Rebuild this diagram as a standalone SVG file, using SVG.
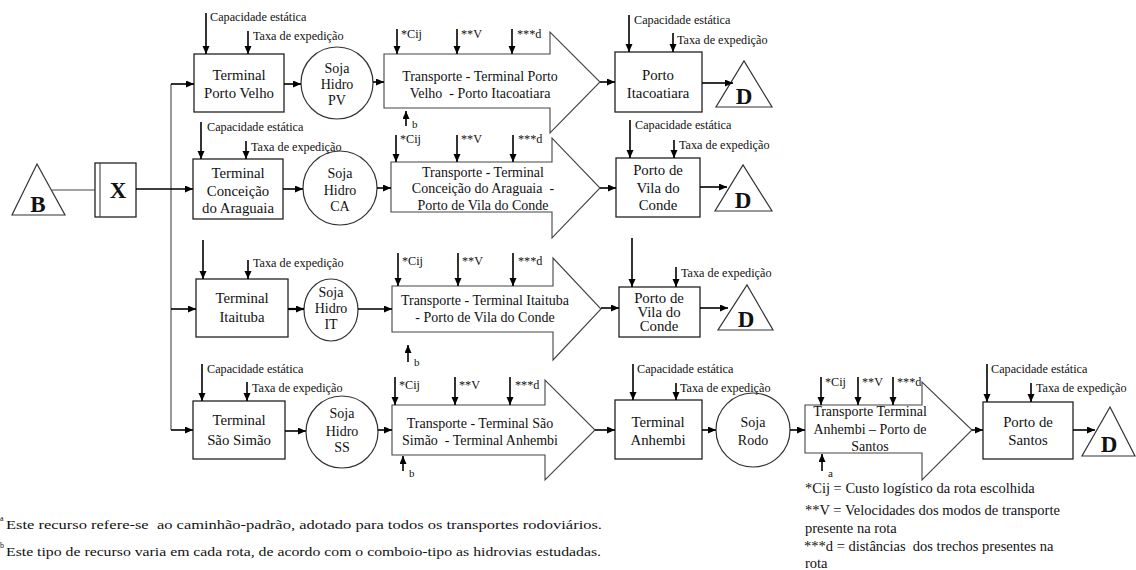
<svg xmlns="http://www.w3.org/2000/svg" width="1136" height="570" viewBox="0 0 1136 570" font-family="'Liberation Serif', 'DejaVu Serif', serif">
  <style>
    text { font-family: 'Liberation Serif', 'DejaVu Serif', 'Times New Roman', serif; fill: #111; white-space: pre; }
    .box { fill: #fff; stroke: #222; stroke-width: 1.3; }
    .circ { fill: #fff; stroke: #333; stroke-width: 1.2; }
    .big { fill: #fff; stroke: #444; stroke-width: 1.1; }
    .tri { fill: #fff; stroke: #333; stroke-width: 1.2; }
    .t { font-size: 14.8px; text-anchor: middle; }
    .ta { font-size: 14px; text-anchor: middle; }
    .s { font-size: 12.2px; }
    .sub { font-size: 11px; }
    .d { font-size: 23px; font-weight: bold; text-anchor: middle; }
    .note { font-size: 14.5px; }
    .fn { font-size: 13.5px; }
    .sup { font-size: 8px; }
    .c { stroke: #000; stroke-width: 1.6; fill: none; }
    .thin { stroke: #444; stroke-width: 1.1; fill: none; }
  </style>
  <defs>
    <marker id="ah" markerUnits="userSpaceOnUse" markerWidth="9" markerHeight="8" refX="8" refY="3.5" orient="auto">
      <path d="M0,0 L8,3.5 L0,7 z" fill="#000"/>
    </marker>
  </defs>

  <!-- origin and selection -->
  <g id="origem-B">
    <polygon class="tri" points="12,215 65,215 37,164"/>
    <text class="d" x="38" y="212">B</text>
  </g>
  <g id="selecao-X">
    <rect class="box" x="95" y="163" width="41" height="54"/>
    <line class="thin" x1="100" y1="163" x2="100" y2="217"/>
    <text class="d" x="118" y="198">X</text>
  </g>

  <!-- route 1: Porto Velho -> Itacoatiara -->
  <g id="terminal-porto-velho">
    <rect class="box" x="194" y="54" width="90" height="58"/>
    <text class="t" x="239" y="80">Terminal</text>
    <text class="t" x="239" y="98">Porto Velho</text>
  </g>
  <g id="soja-hidro-pv">
    <circle class="circ" cx="337" cy="83" r="36"/>
    <text class="ta" x="337" y="73">Soja</text>
    <text class="ta" x="337" y="89">Hidro</text>
    <text class="ta" x="337" y="105">PV</text>
  </g>
  <g id="transporte-pv-itacoatiara">
    <polygon class="big" points="384,54 550,54 550,32 600,82 550,133 550,108 384,108"/>
    <text class="ta" x="480" y="81">Transporte - Terminal Porto</text>
    <text class="ta" x="480" y="98">Velho  - Porto Itacoatiara</text>
  </g>
  <g id="porto-itacoatiara">
    <rect class="box" x="615" y="52" width="87" height="60"/>
    <text class="t" x="658" y="80">Porto</text>
    <text class="t" x="658" y="98">Itacoatiara</text>
  </g>
  <g id="destino-1">
    <polygon class="tri" points="716,107 772,107 744,61"/>
    <text class="d" x="744" y="104">D</text>
  </g>

  <!-- route 2: Conceição do Araguaia -> Vila do Conde -->
  <g id="terminal-conceicao">
    <rect class="box" x="193" y="159" width="90" height="60"/>
    <text class="t" x="238" y="178">Terminal</text>
    <text class="t" x="238" y="196">Conceição</text>
    <text class="t" x="238" y="213">do Araguaia</text>
  </g>
  <g id="soja-hidro-ca">
    <circle class="circ" cx="340" cy="188" r="37"/>
    <text class="ta" x="340" y="178">Soja</text>
    <text class="ta" x="340" y="195">Hidro</text>
    <text class="ta" x="340" y="211">CA</text>
  </g>
  <g id="transporte-ca-vila-do-conde">
    <polygon class="big" points="391,162 552,162 552,138 600,188 552,238 552,212 391,212"/>
    <text class="ta" x="483" y="177">Transporte - Terminal</text>
    <text class="ta" x="483" y="193">Conceição do Araguaia  -</text>
    <text class="ta" x="483" y="210">Porto de Vila do Conde</text>
  </g>
  <g id="porto-vila-do-conde-2">
    <rect class="box" x="616" y="158" width="84" height="59"/>
    <text class="t" x="658" y="175">Porto de</text>
    <text class="t" x="658" y="193">Vila do</text>
    <text class="t" x="658" y="210">Conde</text>
  </g>
  <g id="destino-2">
    <polygon class="tri" points="715,211 772,211 743,165"/>
    <text class="d" x="743" y="208">D</text>
  </g>

  <!-- route 3: Itaituba -> Vila do Conde -->
  <g id="terminal-itaituba">
    <rect class="box" x="196" y="279" width="92" height="58"/>
    <text class="t" x="242" y="303">Terminal</text>
    <text class="t" x="242" y="322">Itaituba</text>
  </g>
  <g id="soja-hidro-it">
    <ellipse class="circ" cx="331" cy="310" rx="27" ry="31"/>
    <text class="ta" x="331" y="297">Soja</text>
    <text class="ta" x="331" y="313">Hidro</text>
    <text class="ta" x="331" y="329">IT</text>
  </g>
  <g id="transporte-it-vila-do-conde">
    <polygon class="big" points="392,286 553,286 553,258 601,309 553,360 553,332 392,332"/>
    <text class="ta" x="485" y="305">Transporte - Terminal Itaituba</text>
    <text class="ta" x="485" y="322">- Porto de Vila do Conde</text>
  </g>
  <g id="porto-vila-do-conde-3">
    <rect class="box" x="619" y="287" width="81" height="50"/>
    <text class="t" x="659" y="303">Porto de</text>
    <text class="t" x="659" y="317">Vila do</text>
    <text class="t" x="659" y="331">Conde</text>
  </g>
  <g id="destino-3">
    <polygon class="tri" points="718,330 773,330 747,285"/>
    <text class="d" x="746" y="327">D</text>
  </g>

  <!-- route 4: São Simão -> Anhembi -> Santos -->
  <g id="terminal-sao-simao">
    <rect class="box" x="193" y="401" width="92" height="58"/>
    <text class="t" x="239" y="425">Terminal</text>
    <text class="t" x="239" y="445">São Simão</text>
  </g>
  <g id="soja-hidro-ss">
    <circle class="circ" cx="342" cy="432" r="36"/>
    <text class="ta" x="342" y="418">Soja</text>
    <text class="ta" x="342" y="436">Hidro</text>
    <text class="ta" x="342" y="452">SS</text>
  </g>
  <g id="transporte-ss-anhembi">
    <polygon class="big" points="392,405 545,405 545,380 595,430 545,480 545,455 392,455"/>
    <text class="ta" x="480" y="428">Transporte - Terminal São</text>
    <text class="ta" x="480" y="445">Simão  - Terminal Anhembi</text>
  </g>
  <g id="terminal-anhembi">
    <rect class="box" x="615" y="400" width="87" height="59"/>
    <text class="t" x="658" y="427">Terminal</text>
    <text class="t" x="658" y="445">Anhembi</text>
  </g>
  <g id="soja-rodo">
    <circle class="circ" cx="753" cy="430" r="37"/>
    <text class="ta" x="753" y="427">Soja</text>
    <text class="ta" x="753" y="445">Rodo</text>
  </g>
  <g id="transporte-anhembi-santos">
    <polygon class="big" points="805,405 922,405 922,382 972,430 922,480 922,453 805,453"/>
    <text class="ta" x="870" y="416">Transporte Terminal</text>
    <text class="ta" x="870" y="434">Anhembi – Porto de</text>
    <text class="ta" x="870" y="451">Santos</text>
  </g>
  <g id="porto-de-santos">
    <rect class="box" x="983" y="402" width="90" height="57"/>
    <text class="t" x="1028" y="427">Porto de</text>
    <text class="t" x="1028" y="445">Santos</text>
  </g>
  <g id="destino-4">
    <polygon class="tri" points="1082,456 1135,456 1110,407"/>
    <text class="d" x="1109" y="452">D</text>
  </g>

  <!-- flow connectors -->
  <g id="connectors">
    <line class="thin" x1="52" y1="190" x2="95" y2="190"/>
    <polyline class="thin" points="171,84 171,430"/>
    <line class="c" x1="136" y1="189" x2="193" y2="189" marker-end="url(#ah)"/>
    <line class="c" x1="171" y1="84" x2="194" y2="84" marker-end="url(#ah)"/>
    <line class="c" x1="171" y1="309" x2="196" y2="309" marker-end="url(#ah)"/>
    <line class="c" x1="171" y1="430" x2="193" y2="430" marker-end="url(#ah)"/>

    <line class="c" x1="284" y1="84" x2="301" y2="84" marker-end="url(#ah)"/>
    <line class="c" x1="373" y1="82" x2="384" y2="82" marker-end="url(#ah)"/>
    <line class="c" x1="600" y1="82" x2="615" y2="82" marker-end="url(#ah)"/>
    <line class="c" x1="702" y1="83" x2="733" y2="83" marker-end="url(#ah)"/>

    <line class="c" x1="283" y1="189" x2="303" y2="189" marker-end="url(#ah)"/>
    <line class="c" x1="377" y1="188" x2="391" y2="188" marker-end="url(#ah)"/>
    <line class="c" x1="600" y1="188" x2="616" y2="188" marker-end="url(#ah)"/>
    <line class="c" x1="700" y1="187" x2="727" y2="187" marker-end="url(#ah)"/>

    <line class="c" x1="288" y1="309" x2="304" y2="309" marker-end="url(#ah)" style="stroke-width:2.2"/>
    <line class="c" x1="358" y1="309" x2="392" y2="309" marker-end="url(#ah)"/>
    <line class="c" x1="601" y1="308" x2="619" y2="308" marker-end="url(#ah)"/>
    <line class="c" x1="700" y1="308" x2="728" y2="308" marker-end="url(#ah)"/>

    <line class="c" x1="285" y1="431" x2="306" y2="431" marker-end="url(#ah)"/>
    <line class="c" x1="378" y1="430" x2="392" y2="430" marker-end="url(#ah)"/>
    <line class="c" x1="595" y1="430" x2="615" y2="430" marker-end="url(#ah)"/>
    <line class="c" x1="702" y1="430" x2="716" y2="430" marker-end="url(#ah)"/>
    <line class="c" x1="790" y1="430" x2="805" y2="430" marker-end="url(#ah)"/>
    <line class="c" x1="972" y1="430" x2="983" y2="430" marker-end="url(#ah)"/>
    <line class="c" x1="1073" y1="430" x2="1095" y2="430" marker-end="url(#ah)"/>
  </g>

  <!-- resource and parameter inputs -->
  <g id="inputs">
    <!-- route 1 -->
    <line class="c" x1="206" y1="13" x2="206" y2="54" marker-end="url(#ah)"/>
    <text class="s" x="210" y="21">Capacidade estática</text>
    <line class="c" x1="248" y1="31" x2="248" y2="54" marker-end="url(#ah)"/>
    <text class="s" x="253" y="40">Taxa de expedição</text>
    <line class="c" x1="397" y1="29" x2="397" y2="54" marker-end="url(#ah)"/>
    <text class="s" x="401" y="38">*Cij</text>
    <line class="c" x1="457" y1="29" x2="457" y2="54" marker-end="url(#ah)"/>
    <text class="s" x="461" y="38">**V</text>
    <line class="c" x1="512" y1="29" x2="512" y2="54" marker-end="url(#ah)"/>
    <text class="s" x="517" y="38">***d</text>
    <line class="c" x1="406" y1="126" x2="406" y2="111" marker-end="url(#ah)"/>
    <text class="sub" x="412" y="128">b</text>
    <line class="c" x1="629" y1="15" x2="629" y2="52" marker-end="url(#ah)"/>
    <text class="s" x="634" y="24">Capacidade estática</text>
    <line class="c" x1="673" y1="33" x2="673" y2="52" marker-end="url(#ah)"/>
    <text class="s" x="677" y="44">Taxa de expedição</text>

    <!-- route 2 -->
    <line class="c" x1="201" y1="122" x2="201" y2="159" marker-end="url(#ah)"/>
    <text class="s" x="207" y="131">Capacidade estática</text>
    <line class="c" x1="246" y1="141" x2="246" y2="159" marker-end="url(#ah)"/>
    <text class="s" x="251" y="151">Taxa de expedição</text>
    <line class="c" x1="396" y1="135" x2="396" y2="162" marker-end="url(#ah)"/>
    <text class="s" x="400" y="143">*Cij</text>
    <line class="c" x1="457" y1="135" x2="457" y2="162" marker-end="url(#ah)"/>
    <text class="s" x="461" y="143">**V</text>
    <line class="c" x1="513" y1="135" x2="513" y2="162" marker-end="url(#ah)"/>
    <text class="s" x="518" y="143">***d</text>
    <line class="c" x1="630" y1="120" x2="630" y2="158" marker-end="url(#ah)"/>
    <text class="s" x="635" y="129">Capacidade estática</text>
    <line class="c" x1="674" y1="140" x2="674" y2="158" marker-end="url(#ah)"/>
    <text class="s" x="679" y="149">Taxa de expedição</text>

    <!-- route 3 -->
    <line class="c" x1="203" y1="240" x2="203" y2="279" marker-end="url(#ah)"/>
    <line class="c" x1="248" y1="260" x2="248" y2="279" marker-end="url(#ah)"/>
    <text class="s" x="253" y="267">Taxa de expedição</text>
    <line class="c" x1="398" y1="253" x2="398" y2="286" marker-end="url(#ah)"/>
    <text class="s" x="402" y="265">*Cij</text>
    <line class="c" x1="458" y1="253" x2="458" y2="286" marker-end="url(#ah)"/>
    <text class="s" x="462" y="265">**V</text>
    <line class="c" x1="513" y1="253" x2="513" y2="286" marker-end="url(#ah)"/>
    <text class="s" x="518" y="265">***d</text>
    <line class="c" x1="408" y1="362" x2="408" y2="345" marker-end="url(#ah)"/>
    <text class="sub" x="414" y="366">b</text>
    <line class="c" x1="632" y1="238" x2="632" y2="287" marker-end="url(#ah)"/>
    <line class="c" x1="676" y1="267" x2="676" y2="287" marker-end="url(#ah)"/>
    <text class="s" x="681" y="277">Taxa de expedição</text>

    <!-- route 4 -->
    <line class="c" x1="202" y1="364" x2="202" y2="401" marker-end="url(#ah)"/>
    <text class="s" x="207" y="373">Capacidade estática</text>
    <line class="c" x1="247" y1="382" x2="247" y2="401" marker-end="url(#ah)"/>
    <text class="s" x="252" y="392">Taxa de expedição</text>
    <line class="c" x1="395" y1="377" x2="395" y2="405" marker-end="url(#ah)"/>
    <text class="s" x="399" y="389">*Cij</text>
    <line class="c" x1="455" y1="377" x2="455" y2="405" marker-end="url(#ah)"/>
    <text class="s" x="459" y="389">**V</text>
    <line class="c" x1="510" y1="377" x2="510" y2="405" marker-end="url(#ah)"/>
    <text class="s" x="515" y="389">***d</text>
    <line class="c" x1="403" y1="471" x2="403" y2="456" marker-end="url(#ah)"/>
    <text class="sub" x="409" y="477">b</text>
    <line class="c" x1="633" y1="364" x2="633" y2="400" marker-end="url(#ah)"/>
    <text class="s" x="637" y="373">Capacidade estática</text>
    <line class="c" x1="676" y1="383" x2="676" y2="400" marker-end="url(#ah)"/>
    <text class="s" x="680" y="392">Taxa de expedição</text>
    <line class="c" x1="821" y1="377" x2="821" y2="405" marker-end="url(#ah)"/>
    <text class="s" x="825" y="386">*Cij</text>
    <line class="c" x1="858" y1="377" x2="858" y2="405" marker-end="url(#ah)"/>
    <text class="s" x="862" y="386">**V</text>
    <line class="c" x1="893" y1="377" x2="893" y2="405" marker-end="url(#ah)"/>
    <text class="s" x="897" y="386">***d</text>
    <line class="c" x1="822" y1="471" x2="822" y2="454" marker-end="url(#ah)"/>
    <text class="sub" x="828" y="477">a</text>
    <line class="c" x1="987" y1="364" x2="987" y2="402" marker-end="url(#ah)"/>
    <text class="s" x="991" y="373">Capacidade estática</text>
    <line class="c" x1="1031" y1="383" x2="1031" y2="402" marker-end="url(#ah)"/>
    <text class="s" x="1036" y="392">Taxa de expedição</text>
  </g>

  <!-- legend -->
  <g id="legenda">
    <text class="note" x="805" y="493">*Cij = Custo logístico da rota escolhida</text>
    <text class="note" x="805" y="515">**V = Velocidades dos modos de transporte</text>
    <text class="note" x="805" y="533">presente na rota</text>
    <text class="note" x="804" y="551">***d = distâncias  dos trechos presentes na</text>
    <text class="note" x="805" y="568">rota</text>
  </g>

  <!-- footnotes -->
  <g id="notas">
    <text class="sup" x="0" y="521">a</text>
    <text class="fn" x="6" y="529" textLength="596" lengthAdjust="spacingAndGlyphs">Este recurso refere-se  ao caminhão-padrão, adotado para todos os transportes rodoviários.</text>
    <text class="sup" x="0" y="548">b</text>
    <text class="fn" x="6" y="556" textLength="595" lengthAdjust="spacingAndGlyphs">Este tipo de recurso varia em cada rota, de acordo com o comboio-tipo as hidrovias estudadas.</text>
  </g>
</svg>
